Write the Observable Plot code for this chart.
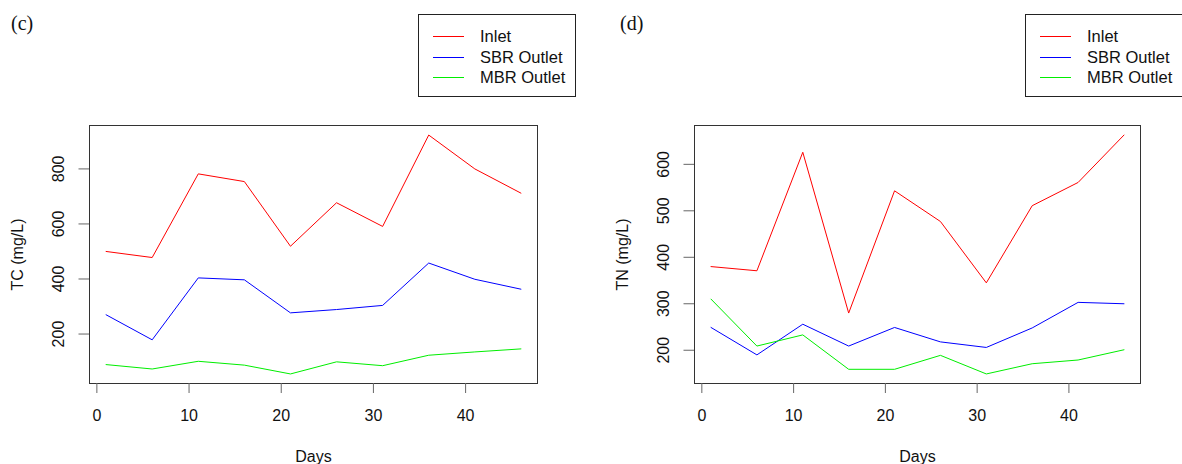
<!DOCTYPE html>
<html><head><meta charset="utf-8">
<script src="https://cdn.jsdelivr.net/npm/d3@7"></script>
<script src="https://cdn.jsdelivr.net/npm/@observablehq/plot@0.6"></script>
<style>
body{margin:0;background:#fff;width:1182px;height:464px;overflow:hidden;position:relative;font-family:"Liberation Sans",Arial,sans-serif;}
.panel{position:absolute;top:0;}
.tag{position:absolute;top:12px;font-family:"Liberation Serif","Times New Roman",serif;font-size:20px;color:#111;}
.legend{position:absolute;top:14px;width:158px;height:83px;border:1px solid #222;box-sizing:border-box;background:#fff;font-size:16.5px;color:#111;}
.row{position:absolute;left:0;width:100%;height:20px;}
.row .ln{position:absolute;left:14px;width:31px;top:10px;height:1px;}
.row .tx{position:absolute;left:61px;top:0;line-height:20px;white-space:nowrap;}
</style>
</head><body>
<div id="root"></div>
<script>
// ---- data ----
const days = [1, 6, 11, 16, 21, 26, 31, 36, 41, 46];
const seriesNames = ["Inlet", "SBR Outlet", "MBR Outlet"];
const seriesColors = ["#ff0000", "#0000ff", "#00ee00"];
const tcInlet = [500, 478, 782, 754, 519, 677, 591, 923, 800, 712];
const tcSBR   = [270, 179, 404, 397, 277, 289, 304, 458, 399, 363];
const tcMBR   = [89, 73, 101, 87, 55, 99, 85, 123, 135, 146];
const tnInlet = [380, 371, 626, 280, 543, 477, 345, 511, 561, 663];
const tnSBR   = [249, 190, 256, 209, 249, 218, 206, 248, 303, 300];
const tnMBR   = [310, 209, 233, 159, 159, 189, 149, 171, 179, 201];
const xTicks = [0, 10, 20, 30, 40];
const tcTicks = [200, 400, 600, 800];
const tnTicks = [200, 300, 400, 500, 600];
const panelTags = ["(c)", "(d)"];
const yLabels = ["TC (mg/L)", "TN (mg/L)"];
const xLabel = "Days";

const root = document.getElementById("root");

function makePanel(values, yTicks, yLabel, left, marginLeft, marginRight) {
  const rows = [];
  values.forEach((vals, s) => vals.forEach((v, i) => rows.push({day: days[i], value: v, series: seriesNames[s]})));
  const all = values.flat();
  const lo = d3.min(all), hi = d3.max(all), pad = (hi - lo) * 0.04;
  const xlo = d3.min(days), xhi = d3.max(days), xpad = (xhi - xlo) * 0.04;
  const chart = Plot.plot({
    width: 591, height: 464,
    marginTop: 125, marginBottom: 81, marginLeft, marginRight,
    style: {fontFamily: '"Liberation Sans", Arial, sans-serif', fontSize: "16px", background: "transparent", color: "#111"},
    x: {domain: [xlo - xpad, xhi + xpad]},
    y: {domain: [lo - pad, hi + pad]},
    color: {domain: seriesNames, range: seriesColors},
    marks: [
      Plot.line(rows, {x: "day", y: "value", z: "series", stroke: "series", strokeWidth: 1}),
      Plot.frame({stroke: "#333"}),
      Plot.axisX({ticks: xTicks, tickSize: 10, tickPadding: 16, stroke: "#666", label: xLabel, labelAnchor: "center", labelOffset: 78, labelArrow: "none", tickFormat: d => String(d)}),
      Plot.axisY({ticks: yTicks, tickSize: 10.5, stroke: "#666", tickFormat: () => "", label: null}),
      Plot.axisY({ticks: yTicks, tickSize: 0, tickPadding: 30.5, rotate: -90, textAnchor: "middle", label: yLabel, labelAnchor: "center", labelOffset: 78, labelArrow: "none", tickFormat: d => String(d)})
    ]
  });
  chart.classList.add("panel");
  chart.style.left = left + "px";
  root.appendChild(chart);
}

makePanel([tcInlet, tcSBR, tcMBR], tcTicks, yLabels[0], 0, 89, 54);
makePanel([tnInlet, tnSBR, tnMBR], tnTicks, yLabels[1], 591, 103, 42);

function addTag(text, left) {
  const d = document.createElement("div");
  d.className = "tag"; d.style.left = left + "px"; d.textContent = text;
  root.appendChild(d);
}
addTag(panelTags[0], 11);
addTag(panelTags[1], 620);

function addLegend(left) {
  const box = document.createElement("div");
  box.className = "legend"; box.style.left = left + "px";
  const tops = [11, 31.5, 52];
  seriesNames.forEach((n, i) => {
    const r = document.createElement("div");
    r.className = "row"; r.style.top = tops[i] + "px";
    const ln = document.createElement("span"); ln.className = "ln"; ln.style.background = seriesColors[i];
    const tx = document.createElement("span"); tx.className = "tx"; tx.textContent = n;
    r.appendChild(ln); r.appendChild(tx); box.appendChild(r);
  });
  root.appendChild(box);
}
addLegend(418);
addLegend(1025);
</script>
</body></html>
